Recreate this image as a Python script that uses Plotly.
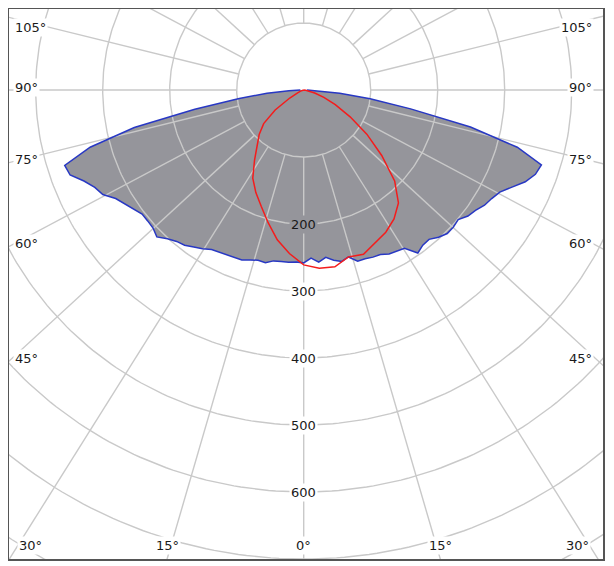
import numpy as np
import plotly.graph_objects as go

# Photometric polar diagram (luminous intensity, cd)
# gamma angle in degrees from nadir, negative = left half of the plane

# C0-C180 plane: grey filled, blue outline
gamma_c0 = [-90, -87.5, -85, -82.5, -80, -77.5, -75, -72.5, -70, -67.5,
            -65, -62.5, -60, -57.5, -55, -52.5, -50, -47.5, -45, -42.5,
            -40, -37.5, -35, -32.5, -30, -27.5, -25, -22.5, -20, -17.5,
            -15, -12.5, -10, -7.5, -5, -2.5, 0, 2.5, 5, 7.5,
            10, 12.5, 15, 17.5, 20, 22.5, 25, 27.5, 30, 32.5,
            35, 37.5, 40, 42.5, 45, 47.5, 50, 52.5, 55, 57.5,
            60, 62.5, 65, 67.5, 70, 72.5, 75, 77.5, 80, 82.5,
            85, 87.5, 90]
cd_c0 = [5, 22, 55, 97, 165, 259, 330, 374, 371, 355,
         344, 338, 324, 316, 309, 304, 304, 305, 310, 301,
         295, 292, 286, 281, 275, 273, 271, 270, 270, 266,
         263, 264, 259, 258, 258, 257, 258, 251, 258, 252,
         258, 262, 258, 268, 268, 270, 271, 276, 278, 280,
         297, 292, 291, 298, 303, 303, 301, 309, 313, 320,
         324, 330, 343, 358, 368, 372, 330, 255, 162, 100,
         54, 22, 5]

# C90-C270 plane: red line
gamma_c90 = [-90, -85, -80, -75, -70, -65, -60, -55, -50, -45,
             -40, -35, -30, -25, -20, -15, -10, -5, 0, 5,
             10, 15, 20, 25, 30, 35, 40, 45, 50, 55,
             60, 65, 70, 75, 80, 85, 90]
cd_c90 = [0, 0, 1, 2, 5, 10, 24, 52, 78, 94,
          108, 128, 152, 169, 185, 205, 227, 245, 261, 267,
          268, 258, 261, 252, 245, 235, 220, 192, 152, 115,
          80, 52, 32, 17, 8, 3, 0]

ring_values = [100, 200, 300, 400, 500, 600, 700, 800]
ring_labels = [200, 300, 400, 500, 600]
ray_step = 15
side_labels = [105, 90, 75, 60, 45]
bottom_labels = [-30, -15, 0, 15, 30]

PX = 0.67            # pixels per cd
RAY_FLAT = 0.92      # rays in the reference are drawn slightly flattened
BODY = 8             # page offset of the plot div
CX, CY = 303.7, 90.0                 # pole, page pixels
L, T, R, B = 9, 9, 603, 559          # frame, page pixels
ML, MT, MR, MB = 1, 1, 2, 2

X_MIN, X_MAX = (L - CX) / PX, (R - CX) / PX
Y_MIN, Y_MAX = (CY - B) / PX, (CY - T) / PX
X_EDGE = min(-X_MIN, X_MAX)

FILL = "#95959b"
GRID = "#c9c9c9"
BLUE = "#2838c4"
RED = "#f41c1c"
FONT = dict(family="DejaVu Sans", size=13, color="#1a1a1a")


def polar_xy(gamma, cd):
    g = np.radians(np.asarray(gamma, dtype=float))
    r = np.asarray(cd, dtype=float)
    return r * np.sin(g), -r * np.cos(g)


fig = go.Figure()

# grey area of the C0-C180 curve (outline drawn later, above the grid)
x0, y0 = polar_xy(gamma_c0, cd_c0)
fig.add_trace(go.Scatter(x=x0, y=y0, mode="lines", fill="toself",
                         fillcolor=FILL, line=dict(width=0),
                         hoverinfo="skip", showlegend=False))

# grid: rings
t = np.linspace(0, 2 * np.pi, 361)
gx, gy = [], []
for r in ring_values:
    gx += list(r * np.cos(t)) + [None]
    gy += list(r * np.sin(t)) + [None]
# grid: rays starting at the first ring
for a in range(0, 360, ray_step):
    d = np.array([np.sin(np.radians(a)), -np.cos(np.radians(a)) * RAY_FLAT])
    d /= np.linalg.norm(d)
    gx += [ring_values[0] * d[0], 1500 * d[0], None]
    gy += [ring_values[0] * d[1], 1500 * d[1], None]
fig.add_trace(go.Scatter(x=gx, y=gy, mode="lines",
                         line=dict(color=GRID, width=1.4),
                         hoverinfo="skip", showlegend=False))

fig.add_trace(go.Scatter(x=x0, y=y0, mode="lines",
                         line=dict(color=BLUE, width=1.5),
                         hoverinfo="skip", showlegend=False))
x1, y1 = polar_xy(gamma_c90, cd_c90)
fig.add_trace(go.Scatter(x=x1, y=y1, mode="lines",
                         line=dict(color=RED, width=1.5),
                         hoverinfo="skip", showlegend=False))

# radial value labels along the nadir ray
cd_nadir = cd_c0[gamma_c0.index(0)]
for r in ring_labels:
    fig.add_annotation(x=0, y=-r, text=str(r), showarrow=False, font=FONT,
                       bgcolor=FILL if r < cd_nadir else "white", borderpad=1)

# angle labels where the rays leave the frame
inset = 4 / PX
for a in side_labels:
    ar = np.radians(a)
    y = -X_EDGE * np.cos(ar) * RAY_FLAT / np.sin(ar) + 3 / PX
    y = min(y, Y_MAX - 18 / PX)
    for side in (-1, 1):
        fig.add_annotation(x=side * (X_EDGE - inset), y=y, text=f"{a}°",
                           xanchor="left" if side < 0 else "right",
                           showarrow=False, font=FONT, bgcolor="white",
                           borderpad=1)
for a in bottom_labels:
    ar = np.radians(a)
    x = np.tan(ar) * (-Y_MIN) / RAY_FLAT
    x = float(np.clip(x, -X_EDGE + 21 / PX, X_EDGE - 21 / PX))
    fig.add_annotation(x=x, y=Y_MIN + 14 / PX, text=f"{abs(a)}°",
                       showarrow=False, font=FONT, bgcolor="white",
                       borderpad=1)

axis = dict(showgrid=False, zeroline=False, showticklabels=False,
            ticks="", showline=True, mirror=True, linecolor="#555555",
            linewidth=1.5, fixedrange=True)
fig.update_layout(
    width=ML + (R - L) + MR, height=MT + (B - T) + MB,
    margin=dict(l=ML, r=MR, t=MT, b=MB, autoexpand=False),
    paper_bgcolor="white", plot_bgcolor="white",
    xaxis=dict(range=[X_MIN, X_MAX], **axis),
    yaxis=dict(range=[Y_MIN, Y_MAX], **axis),
)

fig.write_html("out.html")
